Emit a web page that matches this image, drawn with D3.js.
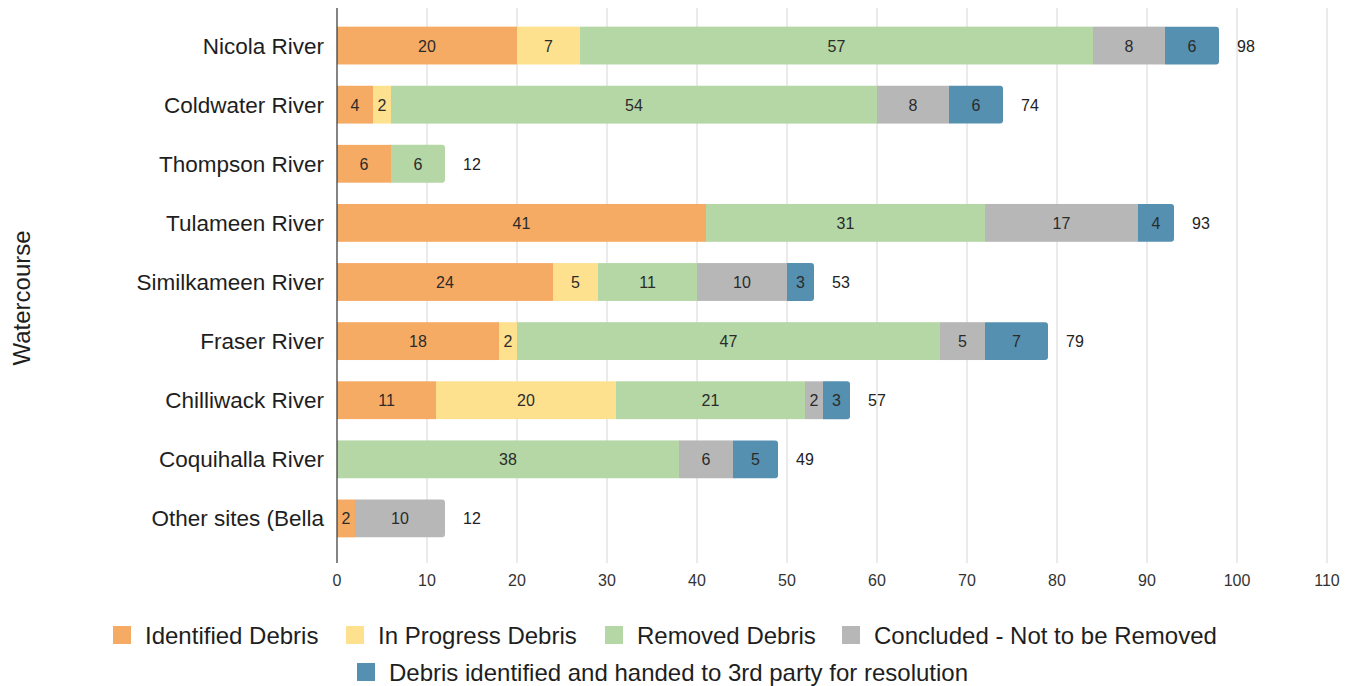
<!DOCTYPE html>
<html>
<head>
<meta charset="utf-8">
<script src="https://cdn.jsdelivr.net/npm/d3@7"></script>
<style>
  body { margin: 0; background: #fff; }
  text { font-family: 'Liberation Sans', Arial, sans-serif; }
</style>
</head>
<body>
<svg id="chart" width="1345" height="686"></svg>
<script>
const categories = ['Nicola River', 'Coldwater River', 'Thompson River', 'Tulameen River',
  'Similkameen River', 'Fraser River', 'Chilliwack River', 'Coquihalla River', 'Other sites (Bella']
const seriesNames = ['Identified Debris', 'In Progress Debris', 'Removed Debris',
  'Concluded - Not to be Removed', 'Debris identified and handed to 3rd party for resolution']
const identified = [20, 4, 6, 41, 24, 18, 11, 0, 2]
const inProgress = [7, 2, 0, 0, 5, 2, 20, 0, 0]
const removed = [57, 54, 6, 31, 11, 47, 21, 38, 0]
const concluded = [8, 8, 0, 17, 10, 5, 2, 6, 10]
const handed = [6, 6, 0, 4, 3, 7, 3, 5, 0]
const xTicks = [0, 10, 20, 30, 40, 50, 60, 70, 80, 90, 100, 110]
const colors = ['#f6ab64', '#fde18f', '#b4d7a5', '#b7b7b7', '#5590b0']

const svg = d3.select('#chart')
const m = {left: 337, right: 1327, top: 16, bottom: 548}

const rows = categories.map((c, i) => ({
  name: c,
  vals: [identified[i], inProgress[i], removed[i], concluded[i], handed[i]]
}))
rows.forEach(r => { r.total = d3.sum(r.vals) })

const x = d3.scaleLinear().domain([0, 110]).range([m.left, m.right])
const y = d3.scaleBand().domain(categories).range([m.top, m.bottom]).paddingInner(0.36).paddingOuter(0.18)

// gridlines
svg.append('g').selectAll('line').data(xTicks.slice(1)).join('line')
  .attr('x1', d => x(d)).attr('x2', d => x(d))
  .attr('y1', 8).attr('y2', 563)
  .attr('stroke', '#d6d6d6').attr('stroke-width', 1)

// tick labels
svg.append('g').selectAll('text').data(xTicks).join('text')
  .attr('x', d => x(d)).attr('y', 586)
  .attr('text-anchor', 'middle')
  .style('font-size', '16px').attr('fill', '#333')
  .text(d => d)

// bars
const barG = svg.append('g')
rows.forEach(r => {
  let acc = 0
  const lastIdx = r.vals.reduce((a, v, i) => v > 0 ? i : a, 0)
  r.vals.forEach((v, i) => {
    if (v <= 0) return
    const x0 = x(acc), x1 = x(acc + v)
    const yy = y(r.name), h = y.bandwidth()
    if (i === lastIdx) {
      const rr = 3
      barG.append('path')
        .attr('d', `M${x0},${yy}H${x1 - rr}Q${x1},${yy} ${x1},${yy + rr}V${yy + h - rr}Q${x1},${yy + h} ${x1 - rr},${yy + h}H${x0}Z`)
        .attr('fill', colors[i])
    } else {
      barG.append('rect')
        .attr('x', x0).attr('y', yy)
        .attr('width', x1 - x0).attr('height', h)
        .attr('fill', colors[i])
    }
    barG.append('text')
      .attr('x', (x0 + x1) / 2).attr('y', yy + h / 2 + 6)
      .attr('text-anchor', 'middle')
      .style('font-size', '16px').attr('fill', '#2b2b2b')
      .text(v)
    acc += v
  })
  barG.append('text')
    .attr('x', x(r.total) + 18).attr('y', y(r.name) + y.bandwidth() / 2 + 6)
    .style('font-size', '16px').attr('fill', '#222')
    .text(r.total)
})

// axis line
svg.append('line')
  .attr('x1', m.left).attr('x2', m.left).attr('y1', 8).attr('y2', 563)
  .attr('stroke', '#333').attr('stroke-width', 1.2)

// category labels
svg.append('g').selectAll('text').data(categories).join('text')
  .attr('x', 324).attr('y', d => y(d) + y.bandwidth() / 2 + 8)
  .attr('text-anchor', 'end')
  .style('font-size', '22.5px').attr('fill', '#1e1e1e')
  .text(d => d)

// axis title
svg.append('text')
  .attr('transform', 'translate(30,298) rotate(-90)')
  .attr('text-anchor', 'middle')
  .style('font-size', '24px').attr('fill', '#1e1e1e')
  .text('Watercourse')

// legend
const legendPos = [
  {x: 113, y: 635}, {x: 346, y: 635}, {x: 605, y: 635}, {x: 842, y: 635}, {x: 357, y: 672}
]
const lg = svg.append('g')
seriesNames.forEach((s, i) => {
  const p = legendPos[i]
  lg.append('rect').attr('x', p.x).attr('y', p.y - 9).attr('width', 18).attr('height', 18)
    .attr('fill', colors[i])
  lg.append('text').attr('x', p.x + 32).attr('y', p.y + 8.5)
    .style('font-size', '24px').attr('fill', '#1e1e1e')
    .text(s)
})
</script>
</body>
</html>
